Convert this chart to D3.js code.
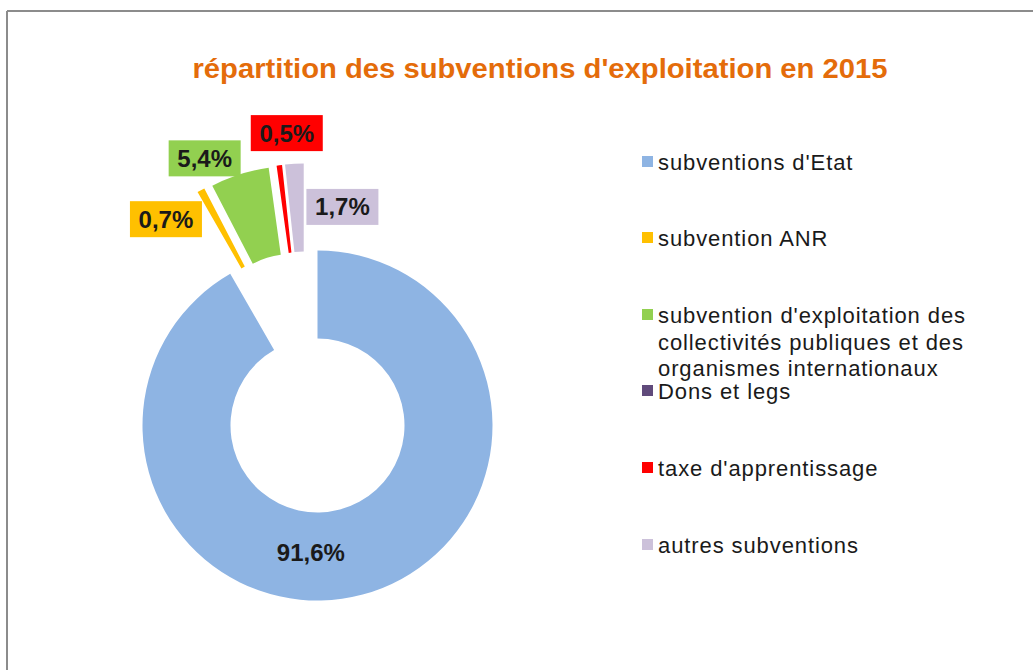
<!DOCTYPE html>
<html>
<head>
<meta charset="utf-8">
<script src="https://cdn.jsdelivr.net/npm/d3@7"></script>
<style>
  body { margin: 0; background: #fff; }
  text { font-family: "Liberation Sans", Arial, sans-serif; }
</style>
</head>
<body>
<div id="chart"></div>
<script>
const width = 1033;
const height = 670;

// data
const categories = [
    "subventions d'Etat",
    "subvention ANR",
    "subvention d'exploitation des collectivités publiques et des organismes internationaux",
    "Dons et legs",
    "taxe d'apprentissage",
    "autres subventions"
];
const values = [91.6, 0.7, 5.4, 0, 0.5, 1.7];
const valueLabels = ["91,6%", "0,7%", "5,4%", "", "0,5%", "1,7%"];
const colors = ["#8EB4E3", "#FFC000", "#92D050", "#604A7B", "#FF0000", "#CCC1DA"];
const exploded = [false, true, true, true, true, true];

// legend lines (the long label wraps on three lines)
const legendLines = [
    ["subventions d'Etat"],
    ["subvention ANR"],
    ["subvention d'exploitation des", "collectivités publiques et des", "organismes internationaux"],
    ["Dons et legs"],
    ["taxe d'apprentissage"],
    ["autres subventions"]
];

// where each value label sits: [angle in degrees from north, distance from centre]
const labelSpots = [[183, 127], [-36.3, 256], [-22.9, 290], null, [-6, 294], [6.5, 220]];

const cx = 317.5, cy = 425.5;
const outerR = 175, innerR = 87;
const explode = 88;

const svg = d3.select("#chart").append("svg")
    .attr("width", width)
    .attr("height", height);

// chart frame (only top and left visible)
svg.append("line").attr("x1", 7).attr("y1", 11).attr("x2", width).attr("y2", 11)
    .attr("stroke", "#8C8C8C").attr("stroke-width", 2);
svg.append("line").attr("x1", 7).attr("y1", 11).attr("x2", 7).attr("y2", height)
    .attr("stroke", "#8C8C8C").attr("stroke-width", 2);

svg.append("text")
    .attr("x", 540)
    .attr("y", 78)
    .attr("text-anchor", "middle")
    .attr("fill", "#E46C0A")
    .attr("font-size", 28)
    .attr("font-weight", "bold")
    .attr("textLength", 695)
    .attr("lengthAdjust", "spacingAndGlyphs")
    .text("répartition des subventions d'exploitation en 2015");

const pie = d3.pie().sort(null).value(d => d)(values);
const arc = d3.arc().innerRadius(innerR).outerRadius(outerR);

// exploded slices are pushed out half along their own bisector, half along the group's
const group = pie.filter(p => exploded[p.index]);
const groupMid = (d3.min(group, p => p.startAngle) + d3.max(group, p => p.endAngle)) / 2;

const g = svg.append("g").attr("transform", `translate(${cx},${cy})`);

g.selectAll("path")
    .data(pie.filter(p => p.value > 0))
    .join("path")
    .attr("d", arc)
    .attr("fill", p => colors[p.index])
    .attr("transform", p => {
        if (!exploded[p.index]) return null;
        const a = ((p.startAngle + p.endAngle) / 2 + groupMid) / 2;
        return `translate(${explode * Math.sin(a)},${-explode * Math.cos(a)})`;
    });

// value labels
pie.forEach(p => {
    const spot = labelSpots[p.index];
    if (!spot || !valueLabels[p.index]) return;
    const a = spot[0] * Math.PI / 180;
    const x = spot[1] * Math.sin(a);
    const y = -spot[1] * Math.cos(a);
    if (p.index > 0) {
        g.append("rect")
            .attr("x", x - 36).attr("y", y - 18)
            .attr("width", 72).attr("height", 36)
            .attr("fill", colors[p.index]);
    }
    g.append("text")
        .attr("x", x)
        .attr("y", y + 8.5)
        .attr("text-anchor", "middle")
        .attr("font-size", 24)
        .attr("font-weight", "bold")
        .attr("fill", "#1a1a1a")
        .text(valueLabels[p.index]);
});

// legend
const legendRows = [162, 238, 315, 391, 468, 545];
const legend = svg.append("g");
categories.forEach((c, i) => {
    legend.append("rect")
        .attr("x", 642).attr("y", legendRows[i] - 6)
        .attr("width", 11).attr("height", 11)
        .attr("fill", colors[i]);
    legendLines[i].forEach((line, j) => {
        legend.append("text")
            .attr("x", 658)
            .attr("y", legendRows[i] + 8 + j * 26.5)
            .attr("font-size", 22)
            .attr("letter-spacing", 0.9)
            .attr("fill", "#1a1a1a")
            .text(line);
    });
});
</script>
</body>
</html>
